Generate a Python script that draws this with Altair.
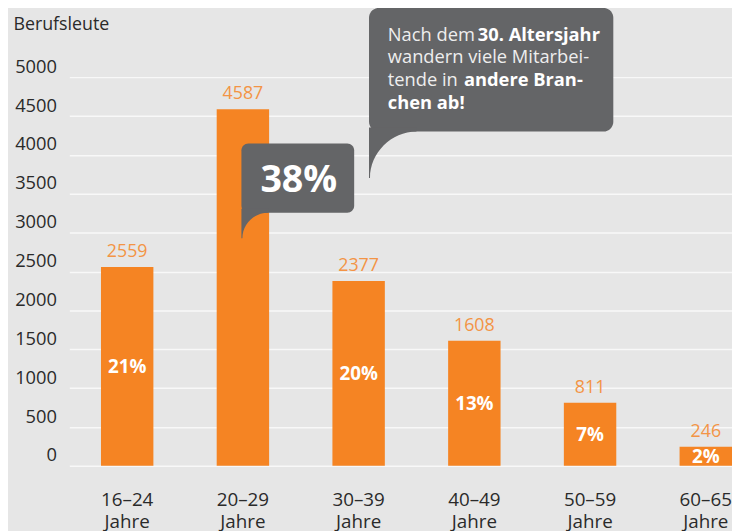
import altair as alt
import pandas as pd

groups = ["16–24 Jahre", "20–29 Jahre", "30–39 Jahre", "40–49 Jahre", "50–59 Jahre", "60–65 Jahre"]
counts = [2559, 4587, 2377, 1608, 811, 246]
shares = [21, 38, 20, 13, 7, 2]
y_ticks = [0, 500, 1000, 1500, 2000, 2500, 3000, 3500, 4000, 4500, 5000]
highlight_group = "20–29 Jahre"

df = pd.DataFrame({"group": groups, "count": counts, "share": shares})

FONT = "Open Sans"
ORANGE = "#f58423"
LABEL_ORANGE = "#f39445"
BUBBLE = "#646567"
TEXT = "#2a2a2a"
BG = "#e6e6e6"

x_enc = alt.X(
    "group:N", sort=groups,
    scale=alt.Scale(range=[62, 764], paddingInner=0, paddingOuter=0),
    axis=alt.Axis(title=None, labelExpr="split(datum.label, ' ')", labelFontSize=19,
                  labelColor=TEXT, labelLineHeight=22, labelPadding=40,
                  labelBaseline="alphabetic", labelAngle=0, ticks=False, tickSize=0,
                  domain=False, grid=False, labelFont=FONT, labelOverlap=False),
)

y_axis = alt.Axis(values=y_ticks, format="d", title="Berufsleute", titleAngle=0,
                  titleX=5, titleY=-48, titleAlign="left", titleBaseline="alphabetic",
                  titleFontSize=18, titleFontWeight="normal", titleColor=TEXT, titleFont=FONT,
                  labelAlign="right", labelPadding=-49, labelOffset=-5,
                  labelBaseline="alphabetic", labelFontSize=18.5, labelColor=TEXT, labelFont=FONT,
                  labelOverlap=False, ticks=False, tickSize=0, domain=False, grid=True,
                  gridColor="#f8f8f8", gridWidth=1.5)
y_scale = alt.Scale(domain=[0, 5000], nice=False)


def y_enc(field):
    return alt.Y(field, scale=y_scale, axis=y_axis)


base = alt.Chart(df)
bars = base.mark_bar(color=ORANGE, width=53).encode(x=x_enc, y=y_enc("count:Q"))

values = base.mark_text(color=LABEL_ORANGE, fontSize=18, font=FONT, dy=-10,
                        baseline="alphabetic").encode(
    x=x_enc,
    y=y_enc("count:Q"),
    text=alt.Text("count:Q", format="d"),
)

pcts = base.transform_filter(
    alt.datum.group != highlight_group
).transform_calculate(
    mid="datum.count / 2", label="datum.share + '%'"
).mark_text(color="white", fontSize=19, fontWeight="bold", font=FONT,
            baseline="middle", dy=1).encode(
    x=x_enc,
    y=y_enc("mid:Q"),
    text="label:N",
)

one = alt.Chart(pd.DataFrame({"a": [0]}))


def box(x1, x2, y1, y2, r):
    return one.mark_rect(color=BUBBLE, cornerRadius=r).encode(
        x=alt.value(x1), x2=alt.value(x2), y=alt.value(y1), y2=alt.value(y2))


def tail(x, y, path):
    return one.mark_point(shape=path, size=4, filled=True, fill=BUBBLE,
                          strokeWidth=0, opacity=1).encode(x=alt.value(x), y=alt.value(y))


def txt(s, x, y, size=18.5, bold=False, color="#eeeeee", align="left"):
    return one.mark_text(text=s, fontSize=size, font=FONT,
                         fontWeight="bold" if bold else "normal",
                         color=color, align=align, baseline="alphabetic").encode(
        x=alt.value(x), y=alt.value(y))


big_box = box(365, 612, -70, 55, 10)
big_tail = tail(365, 55, "M0,-4 L0,47 L1,47 C1,21.6 22.6,0 48,0 L48,-4 Z")
small_box = box(236, 350, 67, 137, 7)
small_tail = tail(236, 137, "M0,-4 L0,26 L1,26 C1,11.6 12.6,0 27,0 L27,-4 Z")

big_text = [
    txt("Nach dem", 384, -37),
    txt("30. Altersjahr", 475, -37, bold=True, color="white"),
    txt("wandern viele Mitarbei-", 384, -14),
    txt("tende in", 384, 9),
    txt("andere Bran-", 461, 9, bold=True, color="white"),
    txt("chen ab!", 384, 32, bold=True, color="white"),
]
small_text = txt(f"{shares[groups.index(highlight_group)]}%", 294, 116, size=38,
                 bold=True, color="white", align="center")

chart = alt.layer(
    bars, values, pcts, big_box, big_tail, small_box, small_tail, *big_text, small_text
).properties(
    width=685, height=393,
    autosize=alt.AutoSizeParams(type="none"),
    padding={"left": 0, "top": 67, "right": 47, "bottom": 63},
).configure(
    background=BG, font=FONT
).configure_view(stroke=None)

chart.save("out.html", embed_options={"renderer": "svg", "actions": False})
